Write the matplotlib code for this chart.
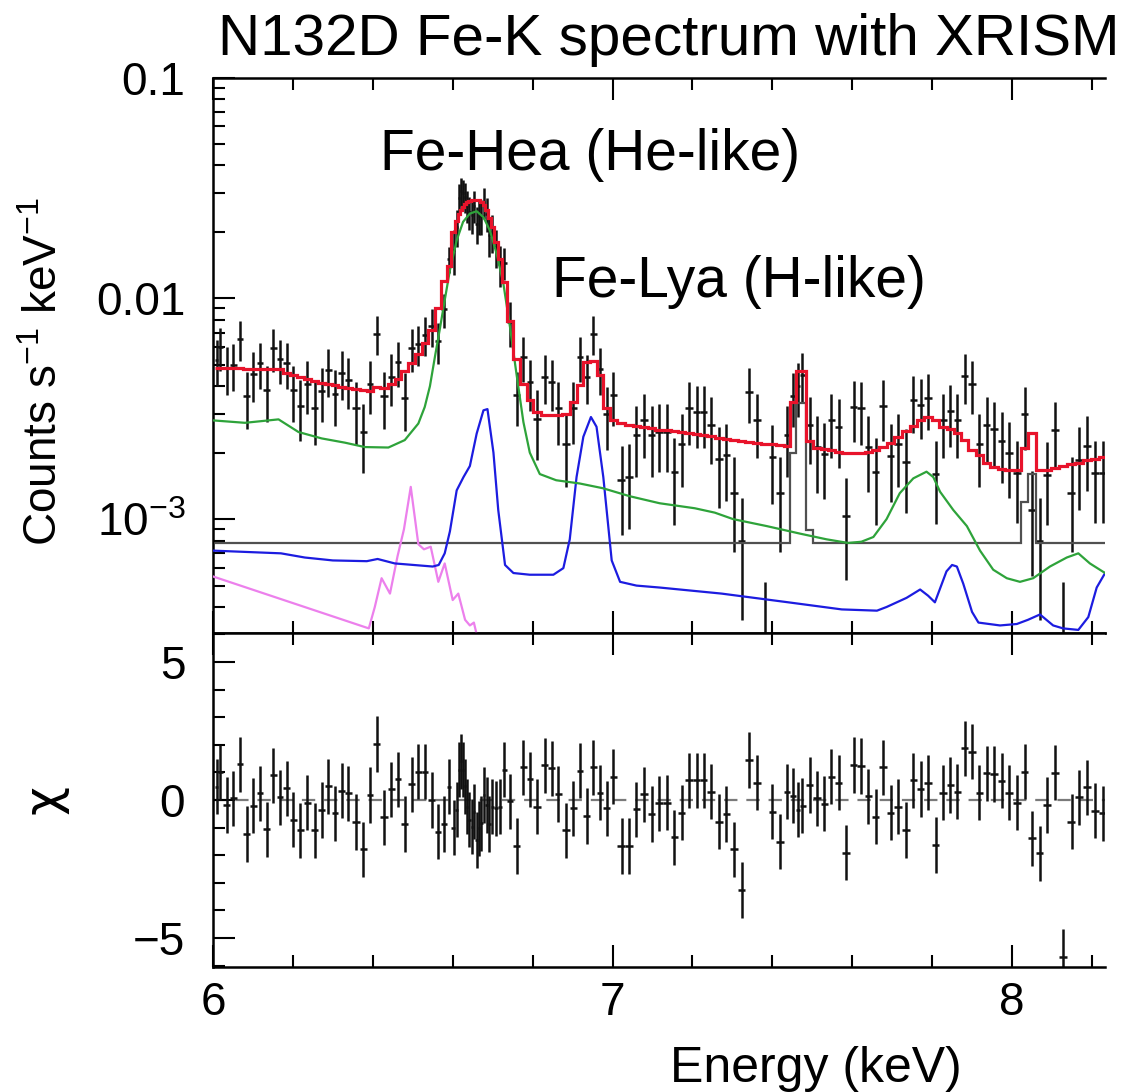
import numpy as np
import matplotlib
matplotlib.use("Agg")
import matplotlib.pyplot as plt
from matplotlib.ticker import FixedLocator, FixedFormatter, MultipleLocator, NullFormatter

plt.rcParams['font.family'] = ['Liberation Sans', 'DejaVu Sans']
plt.rcParams['mathtext.fontset'] = 'custom'
plt.rcParams['mathtext.rm'] = 'Liberation Sans'
plt.rcParams['mathtext.it'] = 'Liberation Sans:italic'
plt.rcParams['mathtext.default'] = 'regular'

# ---- spectrum bins: centre energy (keV) ----
energy = [
    6.009, 6.018, 6.034, 6.051, 6.068, 6.084, 6.101, 6.118, 6.134, 6.151,
    6.168, 6.184, 6.201, 6.218, 6.236, 6.255, 6.272, 6.289, 6.305, 6.322,
    6.339, 6.358, 6.376, 6.393, 6.410, 6.428, 6.446, 6.463, 6.480, 6.497,
    6.514, 6.531, 6.547, 6.564, 6.579, 6.590,
    6.603, 6.611, 6.617, 6.622, 6.627, 6.632, 6.637, 6.642, 6.648, 6.654,
    6.660, 6.666, 6.672, 6.678, 6.685, 6.692, 6.699, 6.709, 6.718, 6.728,
    6.743,
    6.760, 6.777, 6.793, 6.811, 6.830, 6.848, 6.864, 6.883, 6.902, 6.919,
    6.935, 6.952, 6.969, 6.985, 7.002, 7.023, 7.042, 7.060, 7.079, 7.098,
    7.117,
    7.136, 7.155, 7.173, 7.192, 7.211, 7.228, 7.247, 7.266, 7.285, 7.304,
    7.323, 7.342, 7.361, 7.381, 7.400, 7.419, 7.438, 7.453, 7.465, 7.475,
    7.494, 7.512, 7.530, 7.548, 7.566, 7.585, 7.604, 7.622, 7.640, 7.659,
    7.677, 7.696, 7.715, 7.734, 7.753, 7.771, 7.790, 7.809, 7.828, 7.846,
    7.863, 7.882, 7.900, 7.918, 7.937, 7.955, 7.974, 7.993, 8.012, 8.032,
    8.050, 8.069, 8.088, 8.108, 8.128, 8.149, 8.168, 8.187, 8.208, 8.228,
]

# observed rate, 1e-3 counts s^-1 keV^-1
rate = [
    5.24, 6.00, 4.85, 5.00, 6.55, 3.60, 4.55, 5.07, 3.85, 5.95,
    5.30, 5.07, 3.85, 3.25, 4.10, 3.17, 3.80, 4.72, 3.70, 4.60,
    4.25, 3.17, 2.47, 4.08, 6.92, 3.60, 4.42, 5.15, 3.55, 5.95,
    6.23, 6.85, 7.50, 6.40, 8.90, 15.0,
    16.5, 21.0, 28.5, 30.5, 30.0, 28.8, 26.2, 24.5, 23.8, 26.2,
    21.8, 23.5, 23.6, 27.2, 24.2, 19.4, 20.0, 17.0, 14.3, 14.5,
    7.80,
    3.64, 5.43, 4.18, 2.85, 4.41, 4.18, 3.17, 2.20, 3.20, 5.43,
    4.41, 6.92, 4.80, 3.00, 3.64, 1.50, 1.55, 2.40, 2.80, 2.40,
    2.48,
    2.48, 1.64, 2.20, 3.17, 3.05, 3.05, 2.67, 1.87, 1.96, 1.31,
    0.80, 3.77, 2.80, 0.20, 1.92, 1.31, 2.40, 3.60, 4.00, 4.50,
    2.67, 2.12, 1.98, 2.80, 2.60, 1.03, 3.23, 3.17, 2.13, 1.64,
    3.25, 1.94, 2.20, 1.82, 3.45, 3.30, 3.53, 1.60, 2.80, 3.08,
    2.80, 4.46, 4.10, 2.20, 2.67, 2.55, 2.26, 2.00, 1.61, 3.00,
    1.10, 0.80, 1.59, 2.54, 0.27, 1.31, 1.85, 2.14, 1.61, 1.61,
]

rate_err = [
    1.25, 1.30, 1.20, 1.20, 1.35, 1.05, 1.15, 1.20, 1.10, 1.30,
    1.20, 1.20, 1.10, 1.00, 1.10, 1.00, 1.05, 1.15, 1.05, 1.15,
    1.10, 1.00, 0.85, 1.10, 1.40, 1.05, 1.15, 1.20, 1.05, 1.30,
    1.30, 1.35, 1.45, 1.35, 1.60, 2.00,
    3.8, 4.0, 4.3, 4.4, 4.4, 4.4, 4.3, 4.2, 4.2, 4.3,
    4.1, 4.2, 4.2, 4.4, 4.2, 4.0, 3.9, 3.3, 3.0, 2.4,
    1.80,
    1.00, 1.25, 1.10, 1.00, 1.10, 1.10, 1.00, 0.80, 1.00, 1.25,
    1.10, 1.40, 1.15, 0.95, 1.00, 0.65, 0.65, 0.85, 0.90, 0.85,
    0.85,
    0.85, 0.70, 0.80, 1.00, 0.95, 0.95, 0.90, 0.75, 0.75, 0.60,
    0.45, 1.05, 0.90, 0.32, 0.75, 0.60, 0.85, 1.00, 1.10, 1.15,
    0.90, 0.80, 0.75, 0.90, 0.90, 0.50, 1.00, 1.00, 0.80, 0.70,
    1.00, 0.75, 0.80, 0.75, 1.00, 1.00, 1.00, 0.65, 0.90, 0.95,
    0.90, 1.15, 1.10, 0.80, 0.90, 0.85, 0.80, 0.75, 0.65, 0.95,
    0.55, 0.45, 0.65, 0.85, 0.25, 0.60, 0.75, 0.80, 0.65, 0.65,
]

# total folded model per bin, 1e-3 counts s^-1 keV^-1
model_total = [
    4.85, 4.85, 4.85, 4.85, 4.83, 4.80, 4.80, 4.80, 4.80, 4.80,
    4.78, 4.60, 4.48, 4.38, 4.30, 4.22, 4.15, 4.08, 4.03, 3.98,
    3.93, 3.90, 3.85, 3.82, 3.95, 3.92, 4.10, 4.30, 4.70, 5.10,
    5.60, 6.30, 7.20, 9.00, 12.0, 14.0,
    20.0, 22.5, 24.0, 25.0, 26.0, 26.6, 27.2, 27.6, 27.9, 28.0,
    28.0, 27.8, 27.2, 26.4, 25.0, 23.0, 21.0, 18.0, 15.0, 11.8,
    7.90,
    5.30, 4.10, 3.45, 3.06, 2.96, 2.96, 2.96, 3.00, 3.40, 4.05,
    5.15, 5.20, 4.50, 3.20, 2.80, 2.72, 2.68, 2.65, 2.62, 2.58,
    2.54,
    2.52, 2.50, 2.48, 2.46, 2.43, 2.40, 2.37, 2.34, 2.31, 2.29,
    2.27, 2.24, 2.22, 2.20, 2.19, 2.17, 2.15, 3.40, 4.70, 4.70,
    2.25, 2.10, 2.08, 2.05, 2.02, 2.00, 2.00, 2.00, 2.02, 2.06,
    2.12, 2.22, 2.35, 2.50, 2.65, 2.80, 2.90, 2.80, 2.62, 2.55,
    2.45, 2.28, 2.05, 1.95, 1.80, 1.72, 1.68, 1.67, 1.67, 2.09,
    2.46, 1.67, 1.67, 1.70, 1.74, 1.77, 1.80, 1.85, 1.88, 1.91,
]

# residuals (data - model) / error
chi = [
    0.48, 1.00, -0.18, 0.06, 1.30, -1.23, -0.20, 0.24, -1.06, 0.90,
    0.10, 0.42, -0.72, -1.10, -0.10, -1.10, -0.36, 0.50, -0.48, 0.34,
    0.24, -0.80, -1.79, 0.18, 2.03, -0.63, 0.39, 0.75, -0.87, 0.57,
    1.03, 1.03, 0.00, -1.15, -0.87, 0.48,
    -1.00, -0.35, 1.10, 1.40, 1.10, 0.50, -0.24, -0.72, -0.97, -0.42,
    -1.45, -1.03, -0.85, 0.18, -0.18, -0.87, -0.24, -0.30, -0.24, 1.10,
    -0.05,
    -1.67, 1.18, 0.75, -0.24, 1.26, 1.15, 0.22, -1.10, -0.30, 1.06,
    -0.58, 1.18, 0.27, -0.30, 0.85, -1.67, -1.67, -0.34, 0.20, -0.51,
    -0.12,
    -0.10, -1.35, -0.46, 0.72, 0.72, 0.72, 0.30, -0.79, -0.51, -1.79,
    -3.26, 1.45, 0.63, -7.50, -0.42, -1.51, 0.30, 0.15, -0.35, -0.20,
    0.54, 0.06, -0.14, 0.85, 0.63, -1.91, 1.27, 1.23, 0.14, -0.60,
    1.18, -0.46, -0.24, -1.09, 0.72, 0.40, 0.63, -1.63, 0.27, 0.54,
    0.30, 1.87, 1.75, 0.27, 0.97, 0.94, 0.70, 0.27, -0.10, 1.03,
    -1.39, -1.93, -0.18, 0.99, -5.68, -0.79, 0.10, 0.46, -0.39, -0.48,
]

# non-X-ray background: flat level plus instrumental Ni K and Cu K lines
nxb_level = 0.78
nxb_line_energy = [7.453, 7.465, 7.475, 7.494, 8.032, 8.050]
nxb_line_value = [2.00, 3.34, 3.34, 0.89, 1.20, 1.60]

# model components, 1e-3 counts s^-1 keV^-1
comp_a_energy = [6.000, 6.080, 6.164, 6.214, 6.272, 6.330, 6.380, 6.439, 6.480,
                 6.514, 6.530, 6.543, 6.556, 6.568, 6.580, 6.593, 6.610, 6.626,
                 6.643, 6.660, 6.677, 6.693, 6.710, 6.727, 6.743, 6.760, 6.777,
                 6.793, 6.818, 6.859, 6.918, 6.976, 7.043, 7.118, 7.206, 7.256,
                 7.302, 7.386, 7.469, 7.536, 7.590, 7.623, 7.653, 7.686, 7.719,
                 7.753, 7.786, 7.803, 7.820, 7.853, 7.887, 7.920, 7.953, 7.987,
                 8.020, 8.053, 8.095, 8.137, 8.166, 8.195, 8.233]
comp_a_value = [2.80, 2.73, 2.83, 2.48, 2.32, 2.22, 2.12, 2.11, 2.28,
                2.71, 3.22, 4.00, 5.50, 7.30, 9.80, 13.4, 18.3, 22.2,
                24.2, 24.8, 23.3, 20.3, 15.9, 11.6, 7.50, 4.50, 2.75,
                2.00, 1.60, 1.50, 1.45, 1.38, 1.27, 1.18, 1.12, 1.07,
                1.00, 0.93, 0.86, 0.81, 0.78, 0.79, 0.83, 1.00, 1.31,
                1.53, 1.64, 1.55, 1.33, 1.10, 0.93, 0.72, 0.59, 0.54,
                0.52, 0.54, 0.61, 0.67, 0.70, 0.63, 0.57]

comp_b_energy = [6.000, 6.170, 6.230, 6.300, 6.385, 6.412, 6.455, 6.550, 6.565,
                 6.580, 6.593, 6.610, 6.627, 6.643, 6.660, 6.677, 6.687, 6.702,
                 6.714, 6.731, 6.752, 6.793, 6.852, 6.877, 6.893, 6.910, 6.927,
                 6.946, 6.960, 6.977, 6.998, 7.019, 7.060, 7.118, 7.273, 7.440,
                 7.574, 7.662, 7.686, 7.736, 7.770, 7.790, 7.807, 7.836, 7.850,
                 7.862, 7.878, 7.900, 7.916, 7.970, 8.012, 8.040, 8.070, 8.103,
                 8.128, 8.166, 8.191, 8.212, 8.233]
comp_b_value = [0.72, 0.70, 0.67, 0.65, 0.645, 0.66, 0.63, 0.61, 0.62,
                0.70, 0.88, 1.35, 1.55, 1.74, 2.44, 3.11, 3.15, 2.00,
                1.10, 0.62, 0.57, 0.56, 0.56, 0.60, 0.81, 1.55, 2.36,
                2.90, 2.62, 1.55, 0.65, 0.52, 0.50, 0.49, 0.46, 0.42,
                0.39, 0.385, 0.40, 0.44, 0.48, 0.45, 0.42, 0.58, 0.62,
                0.61, 0.51, 0.38, 0.34, 0.33, 0.335, 0.35, 0.37, 0.33,
                0.32, 0.315, 0.36, 0.49, 0.57]

fe_i_energy = [6.000, 6.390, 6.405, 6.422, 6.443, 6.462, 6.478, 6.495, 6.514,
               6.528, 6.545, 6.564, 6.580, 6.600, 6.614, 6.631, 6.643, 6.653,
               6.662]
fe_i_value = [0.55, 0.32, 0.40, 0.54, 0.46, 0.68, 0.90, 1.40, 0.77,
              0.73, 0.75, 0.52, 0.63, 0.43, 0.46, 0.35, 0.33, 0.34,
              0.29]

UNIT = 1e-3
RED = '#e8132b'
GREEN = '#2ea33a'
BLUE = '#1c1ce0'
VIOLET = '#ec80ec'
GRAY = '#505050'

e = np.array(energy)
mid = 0.5 * (e[1:] + e[:-1])
edges = np.concatenate([[e[0] - (mid[0] - e[0])], mid, [e[-1] + (e[-1] - mid[-1])]])
xerr = np.vstack([e - edges[:-1], edges[1:] - e])

nxb = np.full(len(e), nxb_level)
for en, val in zip(nxb_line_energy, nxb_line_value):
    nxb[np.argmin(np.abs(e - en))] = val

W, H = 1129, 1092
fig = plt.figure(figsize=(W / 100, H / 100), dpi=100)

x0, x1 = 213 / W, 1105 / W
ax1 = fig.add_axes([x0, 1 - 633 / H, x1 - x0, (633 - 77.5) / H])
ax2 = fig.add_axes([x0, 1 - 967 / H, x1 - x0, (967 - 633) / H], sharex=ax1)

# ---- spectrum panel ----
ax1.set_yscale('log')
ax1.errorbar(e, np.array(rate) * UNIT, yerr=np.array(rate_err) * UNIT, xerr=xerr,
             fmt='none', ecolor='#111111', elinewidth=1.8, capsize=0, zorder=2)
ax1.stairs(nxb * UNIT, edges, baseline=None, color=GRAY, lw=1.6, zorder=3)
ax1.plot(fe_i_energy, np.array(fe_i_value) * UNIT, color=VIOLET, lw=1.6, zorder=3)
ax1.plot(comp_b_energy, np.array(comp_b_value) * UNIT, color=BLUE, lw=1.6, zorder=3)
ax1.plot(comp_a_energy, np.array(comp_a_value) * UNIT, color=GREEN, lw=1.6, zorder=3)
ax1.stairs(np.array(model_total) * UNIT, edges, baseline=None, color=RED, lw=2.3, zorder=4)

ax1.set_xlim(6.0, 6.0 + (1105 - 213) / 399.5)
ax1.set_ylim(3.05e-4, 0.1)
ax1.yaxis.set_major_locator(FixedLocator([1e-3, 1e-2, 1e-1]))
ax1.yaxis.set_major_formatter(FixedFormatter([r'$10^{-3}$', '0.01', '0.1']))
minor = [m * 10.0 ** k for k in (-4, -3, -2) for m in range(2, 10)]
ax1.yaxis.set_minor_locator(FixedLocator(minor))
ax1.yaxis.set_minor_formatter(NullFormatter())

# ---- residual panel ----
ax2.axhline(0, color='#7a7a7a', lw=1.6, ls=(0, (6, 4)), zorder=1)
ax2.errorbar(e, chi, yerr=np.ones(len(e)), xerr=xerr, fmt='none',
             ecolor='#111111', elinewidth=1.8, capsize=0, zorder=2)
ax2.set_ylim(-6.05, 6.05)
ax2.yaxis.set_major_locator(FixedLocator([-5, 0, 5]))
ax2.yaxis.set_major_formatter(FixedFormatter(['\u22125', '0', '5']))
ax2.yaxis.set_minor_locator(MultipleLocator(1))

ax2.xaxis.set_major_locator(FixedLocator([6, 7, 8]))
ax2.xaxis.set_major_formatter(FixedFormatter(['6', '7', '8']))
ax2.xaxis.set_minor_locator(MultipleLocator(0.2))

for ax in (ax1, ax2):
    ax.spines['right'].set_visible(False)
    for s in ('left', 'top', 'bottom'):
        ax.spines[s].set_linewidth(1.8)
    ax.tick_params(which='both', direction='in', top=True, bottom=True,
                   left=True, right=False, width=1.5, labelsize=33)
    ax.tick_params(which='major', length=16)
    ax.tick_params(which='minor', length=8.5)
    ax.tick_params(axis='y', pad=20)
    ax.tick_params(axis='x', pad=10)
ax1.tick_params(labelbottom=False)

fs = 41
fig.text(218 / W, 1 - 55 / H, 'N132D Fe-K spectrum with XRISM', fontsize=42,
         ha='left', va='baseline')
fig.text(380 / W, 1 - 170 / H, 'Fe-Hea (He-like)', fontsize=fs, ha='left', va='baseline')
fig.text(552 / W, 1 - 297 / H, 'Fe-Lya (H-like)', fontsize=fs, ha='left', va='baseline')
fig.text(45 / W, 1 - 372 / H, r'Counts s$^{-1}$ keV$^{-1}$', fontsize=33,
         rotation=90, ha='center', va='center')
fig.text(45 / W, 1 - 800 / H, '\u03c7', fontsize=36, rotation=90,
         ha='center', va='center', family='DejaVu Sans')
fig.text(816 / W, 1 - 1082 / H, 'Energy (keV)', fontsize=36, ha='center', va='baseline')

fig.savefig('out.png', dpi=100)
